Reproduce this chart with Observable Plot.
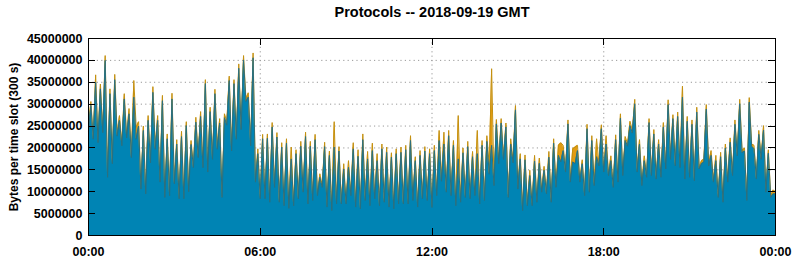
<!DOCTYPE html>
<html>
<head>
<meta charset="utf-8">
<script src="https://cdn.jsdelivr.net/npm/d3@7"></script>
<script src="https://cdn.jsdelivr.net/npm/@observablehq/plot@0.6"></script>
<style>
  html, body { margin: 0; padding: 0; background: #fff; }
  #chart { width: 794px; height: 260px; }
</style>
</head>
<body>
<div id="chart"></div>
<script>
// ---- data (values in millions of bytes per 300 s slot) ----
const title = "Protocols -- 2018-09-19 GMT";
const yLabel = "Bytes per time slot (300 s)";
const dayStart = "2018-09-19T00:00:00Z";
const slotMinutes = 5;
// total of all protocols (top of orange band)
const totalM = [
24.7,30.6,22.5,36.7,21.7,34.6,24.0,41.1,13.7,33.5,16.8,36.8,23.2,27.4,21.0,32.4,22.8,29.0,18.3,35.4,
24.7,26.0,11.0,25.0,9.9,27.4,17.1,34.0,20.2,27.4,12.6,32.0,9.1,23.2,9.5,32.5,12.2,21.9,8.8,23.8,
8.8,26.0,10.4,21.7,16.0,27.0,18.3,28.3,16.0,35.6,14.9,29.3,17.9,33.4,20.2,26.7,9.1,27.8,26.0,36.4,
19.8,35.6,22.5,39.2,24.7,41.1,31.2,32.6,21.0,41.7,12.6,19.8,8.8,23.1,8.8,23.2,8.0,25.8,11.4,23.5,
8.0,21.2,7.2,22.1,6.6,20.2,7.2,19.6,8.8,21.5,10.3,23.6,7.6,21.5,8.4,23.1,9.5,14.1,11.4,21.3,
6.9,19.3,6.1,26.0,7.6,20.3,7.6,16.4,7.6,17.1,9.5,21.2,6.9,19.6,6.5,23.2,8.4,19.2,7.2,21.1,
8.8,18.7,7.2,20.9,8.0,20.2,6.9,18.9,6.5,19.8,7.6,20.2,7.6,20.6,7.6,22.8,8.4,18.0,6.9,19.4,
8.8,20.3,8.4,19.8,6.8,20.6,9.5,24.0,12.9,23.6,10.3,24.0,9.5,21.7,7.2,27.4,8.0,20.0,9.1,21.5,
8.8,19.2,9.5,24.0,7.6,21.7,8.4,22.8,16.0,38.1,11.8,26.5,16.8,26.7,17.9,25.7,9.1,22.1,17.1,29.7,
11.0,18.7,6.1,18.4,7.2,14.9,7.2,18.3,8.0,17.7,10.3,15.8,9.9,19.2,8.0,22.1,11.4,20.6,21.2,20.6,
14.9,26.4,12.6,19.8,20.2,20.6,12.6,17.3,9.5,25.4,10.3,22.8,11.8,22.1,16.4,25.3,14.9,22.8,14.1,18.2,
11.4,23.0,12.6,27.8,14.1,22.6,20.9,26.1,24.0,31.1,14.9,21.9,11.8,18.2,13.7,26.7,14.1,24.2,13.3,21.9,
13.7,25.8,15.6,31.0,17.9,27.6,16.4,28.2,16.0,34.1,13.3,27.2,13.7,26.4,12.9,29.3,15.6,17.1,17.5,29.9,
16.4,19.4,12.6,18.3,9.1,19.0,8.0,20.9,12.6,22.3,14.1,26.4,18.7,31.1,19.4,20.0,8.4,31.5,20.9,20.6,
13.3,24.0,17.9,25.1,10.3,19.6,9.1,10.4,10.0
];
// main protocol (blue band)
const mainM = [
23.8,29.7,22.0,35.0,21.2,33.5,23.5,40.0,13.3,32.4,16.4,35.6,22.7,26.3,20.5,31.2,22.3,27.8,17.8,31.6,
22.0,25.0,10.6,24.0,9.5,26.3,16.6,32.7,19.7,26.3,12.2,30.8,8.7,22.1,9.1,31.2,11.8,20.9,8.4,22.6,
8.4,25.1,10.0,20.8,15.5,25.9,17.8,27.2,15.5,34.7,14.5,28.3,17.4,32.4,19.7,25.7,8.7,26.9,25.2,35.4,
19.3,34.7,22.0,38.2,24.2,40.1,30.6,31.6,20.5,40.6,12.2,18.7,8.4,22.1,8.4,22.2,7.6,24.8,11.0,22.5,
7.6,20.2,6.8,21.1,6.2,17.5,6.8,18.7,8.4,20.4,9.9,22.6,7.2,20.4,8.0,21.9,9.1,13.3,11.0,20.3,
6.5,18.3,5.7,20.2,7.2,19.3,7.2,15.2,7.2,15.6,9.1,19.8,6.5,18.1,6.1,21.9,8.0,17.5,6.8,19.4,
8.4,17.1,6.8,19.8,7.6,19.0,6.5,17.9,6.1,18.7,7.2,19.0,7.2,19.6,7.2,21.7,8.0,17.1,6.5,18.3,
8.4,19.3,8.0,18.7,6.4,19.4,9.1,21.7,12.4,20.9,9.9,22.8,9.1,20.6,6.8,17.5,7.6,18.9,8.7,20.3,
8.4,18.0,9.1,18.7,7.2,20.6,8.0,21.5,14.0,20.6,11.4,25.5,16.4,25.7,17.4,24.8,8.7,20.9,16.6,28.7,
10.6,17.5,5.7,17.3,6.8,13.7,6.8,17.0,7.6,16.5,9.9,14.9,9.5,17.9,7.6,21.1,11.0,18.3,16.8,19.4,
14.5,25.5,12.2,16.8,16.4,19.4,12.2,16.4,9.1,24.4,9.9,21.7,11.4,18.0,15.9,24.4,14.5,20.9,13.7,17.1,
11.0,21.9,12.2,26.8,13.7,21.7,20.4,25.1,23.4,30.1,14.5,20.9,11.4,17.1,13.3,25.8,13.7,23.2,12.9,20.9,
13.3,24.8,15.2,29.9,17.4,26.7,15.9,27.2,15.5,31.6,12.9,26.1,13.3,25.4,12.5,28.2,15.2,16.4,16.8,28.9,
15.9,18.3,12.2,17.1,8.7,18.0,7.6,20.0,12.2,21.3,13.7,25.4,18.2,30.1,18.9,19.3,8.0,30.5,20.4,19.8,
12.9,23.1,17.4,24.1,9.9,18.8,8.7,9.5,9.5
];
const yTicks = [0,5e6,10e6,15e6,20e6,25e6,30e6,35e6,40e6,45e6];
const xTickHours = [0,6,12,18,24];

// ---- table built from arrays ----
const t0 = new Date(dayStart);
const rows = totalM.map((v, i) => ({
  t: new Date(+t0 + i * slotMinutes * 60000),
  total: v * 1e6,
  main: mainM[i] * 1e6
}));
const xTicks = xTickHours.map(h => new Date(+t0 + h * 3600000));
const t1 = xTicks[xTicks.length - 1];

const ORANGE = "#e19b12";
const BLUE = "#0084b4";
const FONT = "'Liberation Sans', Arial, Helvetica, sans-serif";

const M = {left: 88, right: 19, top: 38, bottom: 25};

const plot = Plot.plot({
  width: 794,
  height: 260,
  marginLeft: M.left,
  marginRight: M.right,
  marginTop: M.top,
  marginBottom: M.bottom,
  style: {fontFamily: FONT, fontSize: "12px", fontWeight: "bold", background: "#fff", color: "#000", overflow: "visible"},
  x: {type: "utc", domain: [t0, t1]},
  y: {domain: [0, 45e6]},
  marks: [
    Plot.gridY(yTicks.slice(1, -1), {stroke: "#999", strokeOpacity: 1, strokeDasharray: "1.2,3.2"}),
    Plot.gridX(xTicks.slice(1, -1), {stroke: "#999", strokeOpacity: 1, strokeDasharray: "1.2,3.2"}),
    Plot.areaY(rows, {x: "t", y: "total", fill: ORANGE, curve: "linear"}),
    Plot.lineY(rows, {x: "t", y: "total", stroke: "#c4900f", strokeWidth: 1, curve: "linear"}),
    Plot.areaY(rows, {x: "t", y: "main", fill: BLUE, curve: "linear"}),
    Plot.lineY(rows, {x: "t", y: "main", stroke: "#2c6f7e", strokeWidth: 1, curve: "linear"}),
    Plot.axisY(yTicks, {tickSize: 0, tickPadding: 6, tickFormat: d => String(d), fontSize: 12.5, label: null}),
    Plot.axisX(xTicks, {tickSize: 0, tickPadding: 12, tickFormat: d3.utcFormat("%H:%M"), fontSize: 12.5, label: null}),
    Plot.frame({stroke: "#000", strokeWidth: 1}),
    Plot.text([yLabel], {frameAnchor: "left", dx: -74, rotate: -90, textAnchor: "middle", fontSize: 12, fontWeight: "bold", lineAnchor: "middle"}),
    Plot.text([title], {frameAnchor: "top", dy: -26, fontSize: 14.5, fontWeight: "bold", lineAnchor: "middle"})
  ]
});

// inward tick marks on all four borders (gnuplot style), positioned via Plot's scales
const svg = d3.select(plot);
const ys = plot.scale("y"), xs = plot.scale("x");
const g = svg.append("g").attr("stroke", "#000").attr("stroke-width", 1).attr("shape-rendering", "crispEdges");
const xL = M.left, xR = 794 - M.right, yT = M.top, yB = 260 - M.bottom;
const TL = 7;
yTicks.forEach(v => {
  const y = Math.round(ys.apply(v)) + 0.5;
  g.append("line").attr("x1", xL).attr("x2", xL + TL).attr("y1", y).attr("y2", y);
  g.append("line").attr("x1", xR - TL).attr("x2", xR).attr("y1", y).attr("y2", y);
});
xTicks.forEach(d => {
  const x = Math.round(xs.apply(d)) + 0.5;
  g.append("line").attr("x1", x).attr("x2", x).attr("y1", yB - TL).attr("y2", yB);
  g.append("line").attr("x1", x).attr("x2", x).attr("y1", yT).attr("y2", yT + TL);
});

document.getElementById("chart").appendChild(plot);
</script>
</body>
</html>
